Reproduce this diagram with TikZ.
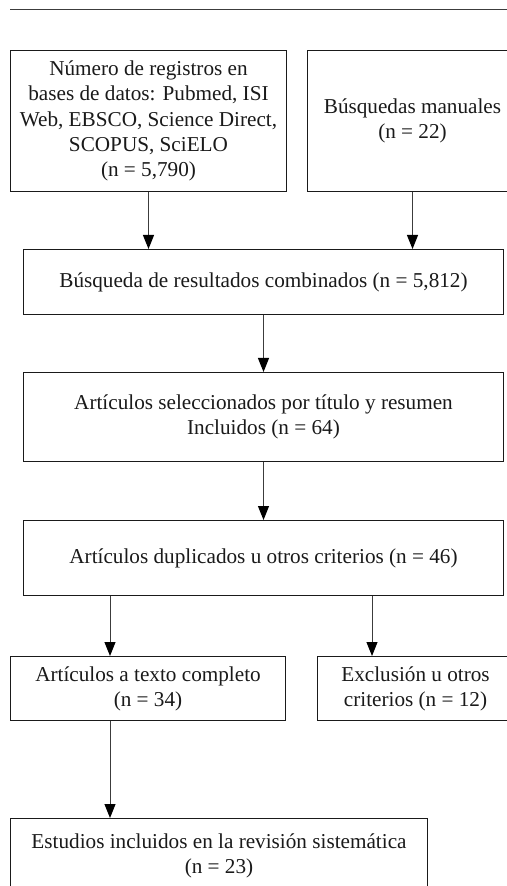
\documentclass[tikz,border=0pt]{standalone}
\usepackage{fontspec}
\setmainfont{Liberation Serif}
\usepackage{tikz}
\usetikzlibrary{arrows.meta, positioning}
\definecolor{linegray}{HTML}{3C3C3C}
\definecolor{dark}{HTML}{1A1A1A}
\tikzset{
    flowbox/.style={
        rectangle, draw=dark, fill=white, line width=0.5pt,
        font=\fontsize{10.6}{12.6}\selectfont, text=dark, align=center,
        inner sep=2pt
    },
    flowarrow/.style={
        -{Triangle[length=7pt, width=5.5pt, color=black]}, line width=0.5pt, color=linegray
    },
}

\begin{document}
\begin{tikzpicture}

    \useasboundingbox (0pt,0pt) rectangle (253.5pt,-443pt);

    % Rule on top
    \draw[line width=0.5pt, linegray] (5pt,-5pt) -- (253.5pt,-5pt);

    % Sources
    \node[flowbox, minimum width=138pt, minimum height=70.5pt, anchor=north west] (db) at (5pt,-25pt) {N\'umero de registros en\\bases de datos: Pubmed, ISI\\Web, EBSCO, Science Direct,\\SCOPUS, SciELO\\(n = 5,790)};
    \node[flowbox, minimum width=105pt, minimum height=70.5pt, right=10pt of db] (manual) {B\'usquedas manuales\\(n = 22)};

    % Screening
    \node[flowbox, minimum width=240pt, minimum height=32.5pt, anchor=north west] (comb) at (11.5pt,-124.5pt) {B\'usqueda de resultados combinados (n = 5,812)};
    \node[flowbox, minimum width=240pt, minimum height=44.5pt, below=28.5pt of comb] (sel) {Art\'iculos seleccionados por t\'itulo y resumen\\Incluidos (n = 64)};
    \node[flowbox, minimum width=240pt, minimum height=37.5pt, below=29pt of sel] (dup) {Art\'iculos duplicados u otros criterios (n = 46)};

    % Eligibility
    \node[flowbox, minimum width=137.5pt, minimum height=32pt, anchor=north west] (full) at (5pt,-328pt) {Art\'iculos a texto completo\\(n = 34)};
    \node[flowbox, minimum width=98pt, minimum height=32pt, right=15.5pt of full] (excl) {Exclusi\'on u otros\\criterios (n = 12)};

    % Included
    \node[flowbox, minimum width=208.5pt, minimum height=37pt, below=48.5pt of full.south west, anchor=north west] (incl) {Estudios incluidos en la revisi\'on sistem\'atica\\(n = 23)};

    % Arrows
    \draw[flowarrow] (db.south) -- (db.south |- comb.north);
    \draw[flowarrow] (manual.south) -- (manual.south |- comb.north);
    \draw[flowarrow] (comb.south) -- (sel.north);
    \draw[flowarrow] (sel.south) -- (dup.north);
    \draw[flowarrow] ([xshift=50pt]full.north west |- dup.south) -- ([xshift=50pt]full.north west);
    \draw[flowarrow] ([xshift=27.5pt]excl.north west |- dup.south) -- ([xshift=27.5pt]excl.north west);
    \draw[flowarrow] ([xshift=50pt]full.south west) -- ([xshift=50pt]full.south west |- incl.north);

\end{tikzpicture}
\end{document}
